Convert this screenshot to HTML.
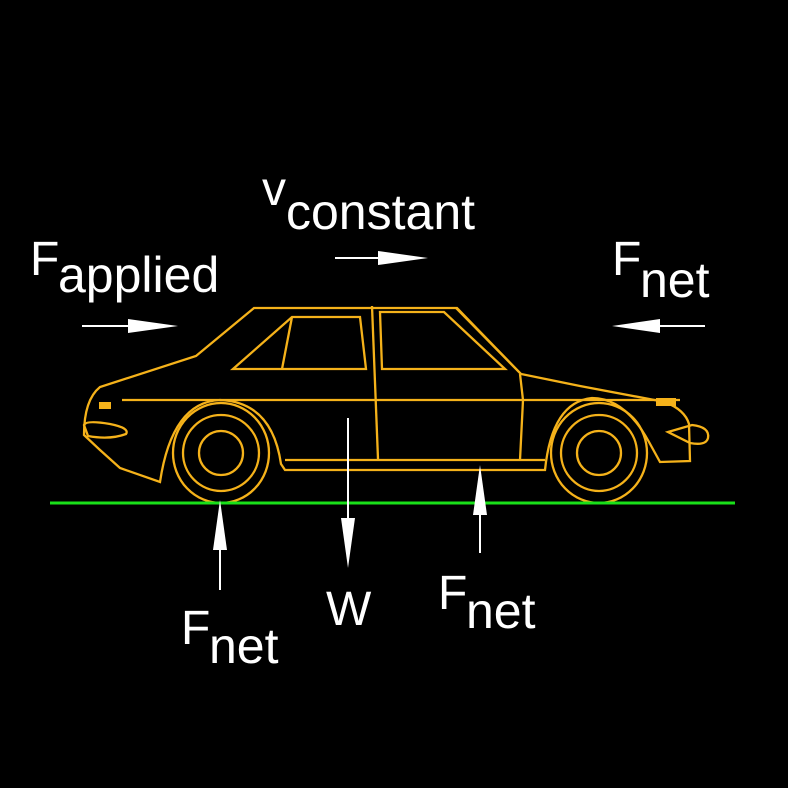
<!DOCTYPE html>
<html><head><style>body{margin:0;background:#000}svg{display:block}</style></head><body>
<svg width="788" height="788" viewBox="0 0 788 788" xmlns="http://www.w3.org/2000/svg">
<rect width="788" height="788" fill="#000"/>
<g fill="none" stroke="#f5b21a" stroke-width="2.3">
<path d="M254,308 L457,308 L521,374 L580,386 L665,402 Q685,410 689,424 L690,461 L660,462 L649,442 Q625,398 592,398 Q552,402 545,470 L285,470 L281,464 Q272,402 220,400 Q172,402 160,482 L120,468 L100,450 L84,435 Q84,400 100,387 L196,356 L254,308 Z"/>
<path d="M456,308 L521,374"/>
<path d="M372,306 L378,459"/>
<path d="M520,374 L523,400 L520,460"/>
<path d="M285,460 L545,460"/>
<path d="M122,400 L680,400"/>
<path d="M233,369 L292,317 L360,317 L366,369 Z"/>
<path d="M292,317 L282,369"/>
<path d="M380,312 L444,312 L505,369 L382,369 Z"/>
<path d="M84,425 Q86,420 110,424 Q130,428 126,434 Q110,440 88,436 Z"/>
<path d="M668,432 L692,425 Q710,427 708,438 Q706,446 690,443 Z"/>
<ellipse cx="221" cy="453" rx="48" ry="50"/><circle cx="221" cy="453" r="38"/><circle cx="221" cy="453" r="22"/>
<ellipse cx="599" cy="453" rx="48" ry="50"/><circle cx="599" cy="453" r="38"/><circle cx="599" cy="453" r="22"/>
</g>
<rect x="99" y="402" width="12" height="7" fill="#f5b21a"/>
<rect x="656" y="398" width="20" height="8" fill="#f5b21a"/>
<line x1="50" y1="503" x2="735" y2="503" stroke="#19e019" stroke-width="3"/>
<g stroke="#fff" stroke-width="2" fill="#fff">
<line x1="82" y1="326" x2="135" y2="326"/><polygon points="128,319 178,326 128,333" stroke="none"/>
<line x1="335" y1="258" x2="385" y2="258"/><polygon points="378,251 428,258 378,265" stroke="none"/>
<line x1="655" y1="326" x2="705" y2="326"/><polygon points="660,319 612,326 660,333" stroke="none"/>
<line x1="220" y1="590" x2="220" y2="545"/><polygon points="213,550 220,500 227,550" stroke="none"/>
<line x1="348" y1="418" x2="348" y2="525"/><polygon points="341,518 348,568 355,518" stroke="none"/>
<line x1="480" y1="553" x2="480" y2="510"/><polygon points="473,515 480,465 487,515" stroke="none"/>
</g>
<g fill="#fff" font-family="Liberation Sans, sans-serif" font-size="48">
<text x="30" y="275">F</text><text x="58" y="292" font-size="50">applied</text>
<text x="262" y="205">v</text><text x="286" y="229" font-size="50">constant</text>
<text x="612" y="275">F</text><text x="640" y="297" font-size="50">net</text>
<text x="181" y="644">F</text><text x="209" y="663" font-size="50">net</text>
<text x="326" y="625">W</text>
<text x="438" y="609">F</text><text x="466" y="628" font-size="50">net</text>
</g>
</svg>
</body></html>
